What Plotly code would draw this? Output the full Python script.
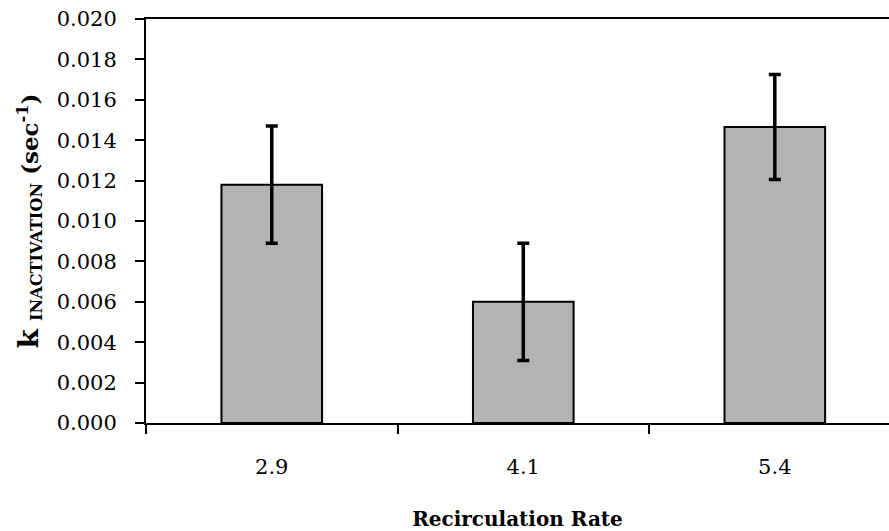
import plotly.graph_objects as go

categories = ["2.9", "4.1", "5.4"]
k_values = [0.0118, 0.0060, 0.01465]
k_errors = [0.0029, 0.0029, 0.0026]
y_ticks = [0.000, 0.002, 0.004, 0.006, 0.008, 0.010, 0.012, 0.014, 0.016, 0.018, 0.020]
y_tick_labels = ["%.3f" % v for v in y_ticks]

font_family = "DejaVu Serif"

fig = go.Figure()
fig.add_trace(go.Bar(
    x=categories,
    y=k_values,
    marker=dict(color="#b3b3b3", line=dict(color="black", width=2)),
    width=0.4,
    error_y=dict(type="data", array=k_errors, visible=True,
                 color="black", thickness=3.5, width=6),
))

fig.update_layout(
    width=889, height=531,
    margin=dict(l=146, r=0, t=19, b=108),
    paper_bgcolor="white", plot_bgcolor="white",
    showlegend=False,
    font=dict(family=font_family, size=21, color="black"),
    xaxis=dict(
        type="category",
        range=[-0.5, 2.454],
        tickson="boundaries",
        ticks="outside", ticklen=9, tickwidth=2, tickcolor="black",
        showline=True, linecolor="black", linewidth=2, mirror=True,
        showgrid=False, zeroline=False,
        ticklabelstandoff=24,
        tickfont=dict(family=font_family, size=21),
        title=dict(text="<b>Recirculation Rate</b>", standoff=34,
                   font=dict(family=font_family, size=20)),
    ),
    yaxis=dict(
        range=[0, 0.020],
        tickmode="array", tickvals=y_ticks, ticktext=y_tick_labels,
        ticks="outside", ticklen=9, tickwidth=2, tickcolor="black",
        showline=True, linecolor="black", linewidth=2,
        showgrid=False, zeroline=False,
        ticklabelstandoff=14,
        tickfont=dict(family=font_family, size=21),
        title=dict(text="<b><span style='font-size:28px'>k</span> <sub>INACTIVATION</sub> (sec<sup>-1</sup>)</b>",
                   standoff=12,
                   font=dict(family=font_family, size=23)),
    ),
)

fig.write_html("out.html")
